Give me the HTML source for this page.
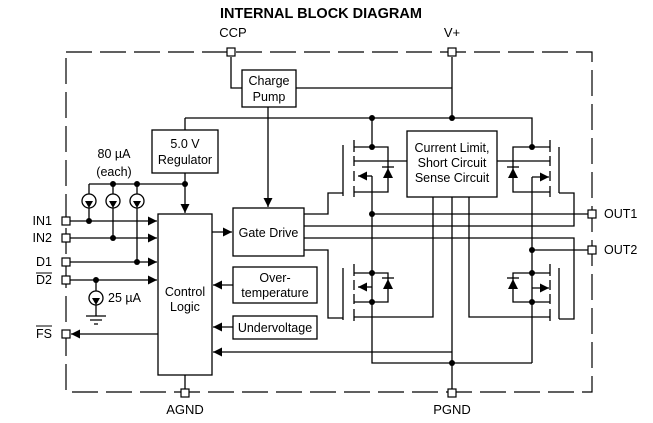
<!DOCTYPE html>
<html><head><meta charset="utf-8"><style>
html,body{margin:0;padding:0;background:#fff;}
svg{display:block;font-family:"Liberation Sans",Arial,sans-serif;}
</style></head><body>
<svg width="653" height="423" viewBox="0 0 653 423" xmlns="http://www.w3.org/2000/svg">
<defs>
<marker id="a" viewBox="0 0 10 10" refX="10" refY="5" markerWidth="11" markerHeight="9" markerUnits="userSpaceOnUse" orient="auto"><path d="M0,0L10,5L0,10z" fill="#000"/></marker>
</defs>
<rect width="653" height="423" fill="#fff"/>
<text x="321" y="18" font-size="14.5" font-weight="bold" text-anchor="middle">INTERNAL BLOCK DIAGRAM</text>
<text x="233" y="37" font-size="13" text-anchor="middle">CCP</text>
<text x="452" y="37" font-size="13" text-anchor="middle">V+</text>
<text x="185" y="414" font-size="13" text-anchor="middle">AGND</text>
<text x="452" y="414" font-size="13" text-anchor="middle">PGND</text>
<rect x="66" y="52" width="526" height="340" fill="none" stroke="#000" stroke-width="1.2" stroke-dasharray="26,8"/>
<g stroke="#000" stroke-width="1.3" fill="none">
<rect x="242" y="70" width="54" height="37" fill="#fff"/>
<rect x="152" y="130" width="66" height="43" fill="#fff"/>
<rect x="158" y="214" width="54" height="161" fill="#fff"/>
<rect x="233" y="208" width="71" height="48" fill="#fff"/>
<rect x="233" y="267" width="84" height="36" fill="#fff"/>
<rect x="233" y="316" width="84" height="23" fill="#fff"/>
<rect x="407" y="131" width="90" height="66" fill="#fff"/>
<path d="M231 57V88H242"/>
<path d="M296 88H452"/>
<path d="M452 57V118"/>
<path d="M185 118H532V147"/>
<path d="M372 118V147"/>
<path d="M185 118V130"/>
<path d="M268 107V207" marker-end="url(#a)"/>
<path d="M185 173V213" marker-end="url(#a)"/>
<path d="M89 184H185"/>
<path d="M89 184V194M113 184V194M137 184V194"/>
<circle cx="89" cy="201" r="7"/><circle cx="113" cy="201" r="7"/><circle cx="137" cy="201" r="7"/>
<path d="M89 208V221M113 208V238M137 208V262"/>
<path d="M70 221H157" marker-end="url(#a)"/>
<path d="M70 238H157" marker-end="url(#a)"/>
<path d="M70 262H157" marker-end="url(#a)"/>
<path d="M70 280H157" marker-end="url(#a)"/>
<path d="M96 280V291"/>
<circle cx="96" cy="298" r="7"/>
<path d="M96 305V316M86 316H106M90 320H102M94 324H98"/>
<path d="M158 334H71" marker-end="url(#a)"/>
<path d="M212 232H232" marker-end="url(#a)"/>
<path d="M233 285H213" marker-end="url(#a)"/>
<path d="M233 327H213" marker-end="url(#a)"/>
<path d="M452 352H213" marker-end="url(#a)"/>
<path d="M185 375V389"/>
<path d="M304 214H328V193H343"/>
<path d="M304 226H574V193H559"/>
<path d="M304 238H574V319H559"/>
<path d="M304 250H328V318H343"/>
<path d="M343 145V196"/>
<path d="M354 140V152M354 156V166M354 171V181M354 186V197"/>
<path d="M354 147H388V192H354"/>
<path d="M354 161H407"/>
<path d="M372 176H358" marker-end="url(#a)"/>
<path d="M372 176V302"/>
<path d="M382 167H394"/>
<path d="M343 268V320"/>
<path d="M354 264V276M354 280V290M354 294V304M354 309V321"/>
<path d="M354 273H388V302H354"/>
<path d="M354 317H433V197"/>
<path d="M372 287H358" marker-end="url(#a)"/>
<path d="M372 302V363H532"/>
<path d="M382 278H394"/>
<path d="M559 147V193"/>
<path d="M550 140V152M550 156V166M550 171V181M550 186V197"/>
<path d="M550 147H513V192H550"/>
<path d="M497 161H550"/>
<path d="M532 177H549" marker-end="url(#a)"/>
<path d="M532 177V302"/>
<path d="M507 167H519"/>
<path d="M559 268V319"/>
<path d="M550 264V276M550 280V290M550 294V304M550 309V321"/>
<path d="M550 273H513V302H550"/>
<path d="M469 197V317H550"/>
<path d="M532 288H549" marker-end="url(#a)"/>
<path d="M532 302V363"/>
<path d="M507 278H519"/>
<path d="M452 197V389"/>
<path d="M372 214H588"/>
<path d="M532 250H588"/>
</g>
<g fill="#000">
<path d="M388 168L383 178H393z"/>
<path d="M388 279L383 289H393z"/>
<path d="M513 168L508 178H518z"/>
<path d="M513 279L508 289H518z"/>
<path d="M89 208L85 201H93z"/><path d="M113 208L109 201H117z"/><path d="M137 208L133 201H141z"/>
<path d="M96 305L92 298H100z"/>
</g>
<g fill="#000">
<circle cx="372" cy="118" r="3"/><circle cx="452" cy="118" r="3"/>
<circle cx="372" cy="147" r="3"/><circle cx="532" cy="147" r="3"/>
<circle cx="372" cy="214" r="3"/><circle cx="532" cy="250" r="3"/>
<circle cx="372" cy="273" r="3"/><circle cx="372" cy="302" r="3"/>
<circle cx="532" cy="273" r="3"/><circle cx="532" cy="302" r="3"/>
<circle cx="452" cy="363" r="3"/>
<circle cx="185" cy="184" r="3"/><circle cx="113" cy="184" r="3"/><circle cx="137" cy="184" r="3"/>
<circle cx="89" cy="221" r="3"/><circle cx="113" cy="238" r="3"/><circle cx="137" cy="262" r="3"/>
<circle cx="96" cy="280" r="3"/>
</g>
<g fill="#fff" stroke="#000" stroke-width="1.2">
<rect x="227" y="48" width="8" height="8"/>
<rect x="448" y="48" width="8" height="8"/>
<rect x="62" y="217" width="8" height="8"/>
<rect x="62" y="234" width="8" height="8"/>
<rect x="62" y="258" width="8" height="8"/>
<rect x="62" y="276" width="8" height="8"/>
<rect x="62" y="330" width="8" height="8"/>
<rect x="181" y="389" width="8" height="8"/>
<rect x="448" y="389" width="8" height="8"/>
<rect x="588" y="210" width="8" height="8"/>
<rect x="588" y="246" width="8" height="8"/>
</g>
<g font-size="12.5">
<text x="269" y="85" text-anchor="middle">Charge</text>
<text x="269" y="101" text-anchor="middle">Pump</text>
<text x="185" y="148" text-anchor="middle">5.0 V</text>
<text x="185" y="164" text-anchor="middle">Regulator</text>
<text x="268.5" y="237" text-anchor="middle">Gate Drive</text>
<text x="275" y="282" text-anchor="middle">Over-</text>
<text x="275" y="297" text-anchor="middle">temperature</text>
<text x="275" y="332" text-anchor="middle">Undervoltage</text>
<text x="185" y="296" text-anchor="middle">Control</text>
<text x="185" y="311" text-anchor="middle">Logic</text>
<text x="452" y="152" text-anchor="middle">Current Limit,</text>
<text x="452" y="167" text-anchor="middle">Short Circuit</text>
<text x="452" y="182" text-anchor="middle">Sense Circuit</text>
<text x="114" y="158" text-anchor="middle">80 µA</text>
<text x="114" y="176" text-anchor="middle">(each)</text>
<text x="108" y="302">25 µA</text>
<text x="52" y="225" text-anchor="end">IN1</text>
<text x="52" y="242" text-anchor="end">IN2</text>
<text x="52" y="266" text-anchor="end">D1</text>
<text x="52" y="284" text-anchor="end">D2</text>
<text x="52" y="338" text-anchor="end">FS</text>
<text x="604" y="218">OUT1</text>
<text x="604" y="254">OUT2</text>
</g>
<path d="M36 273H52M36 326H52" stroke="#000" stroke-width="1"/>
</svg>
</body></html>
